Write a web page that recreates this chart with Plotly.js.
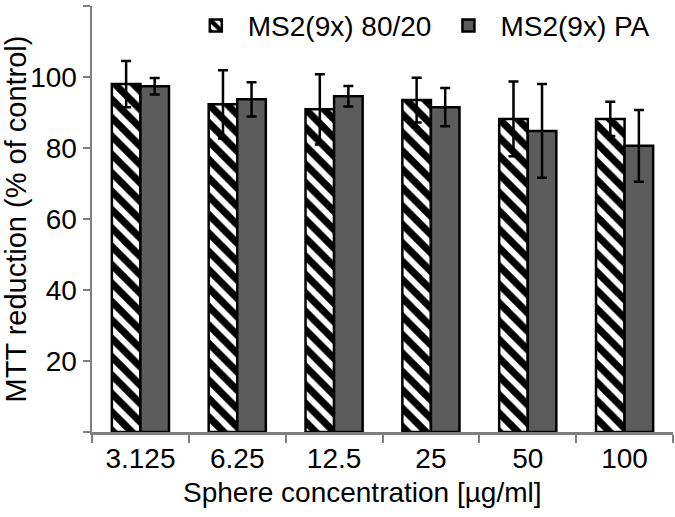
<!DOCTYPE html>
<html>
<head>
<meta charset="utf-8">
<script src="https://cdn.plot.ly/plotly-3.0.1.min.js"></script>
<style>html,body{margin:0;padding:0;background:#fff;}#chart{width:675px;height:517px;}</style>
</head>
<body>
<div id="chart"></div>
<script>
// Data
var categories = ['3.125', '6.25', '12.5', '25', '50', '100'];
var seriesNames = ['MS2(9x) 80/20', 'MS2(9x) PA'];
var ms2_8020 = [98.0, 92.3, 90.9, 93.5, 88.2, 88.2];
var ms2_8020_err = [6.5, 9.6, 9.9, 6.3, 10.5, 4.8];
var ms2_pa = [97.4, 93.7, 94.6, 91.5, 84.8, 80.6];
var ms2_pa_err = [2.3, 4.8, 2.9, 5.4, 13.2, 10.1];
var yTickVals = [0, 20, 40, 60, 80, 100, 120];
var yTickText = ['', '20', '40', '60', '80', '100', ''];
var xTitle = 'Sphere concentration [µg/ml]';
var yTitle = 'MTT reduction (% of control)';

var FONT = 'Arial, "Liberation Sans", Helvetica, sans-serif';
var axisGray = '#7f7f7f';

var traces = [
  {
    type: 'bar', name: seriesNames[0], x: categories, y: ms2_8020,
    marker: {
      color: 'white',
      line: {color: 'black', width: 2.5},
      pattern: {shape: '\\', fgcolor: '#000000', fgopacity: 1, bgcolor: 'white', size: 13, solidity: 0.55, fillmode: 'overlay'}
    },
    error_y: {type: 'data', array: ms2_8020_err, visible: true, color: 'black', thickness: 2.5, width: 5}
  },
  {
    type: 'bar', name: seriesNames[1], x: categories, y: ms2_pa,
    marker: {color: '#5c5c5c', line: {color: 'black', width: 2.5}},
    error_y: {type: 'data', array: ms2_pa_err, visible: true, color: 'black', thickness: 2.5, width: 5}
  }
];

var layout = {
  width: 675, height: 517,
  margin: {l: 92, r: 2, t: 5, b: 85},
  paper_bgcolor: 'white', plot_bgcolor: 'white',
  font: {family: FONT, size: 28, color: 'black'},
  barmode: 'group', bargap: 0.41, bargroupgap: 0,
  showlegend: true,
  legend: {
    orientation: 'h', x: 0.158, xanchor: 'left', y: 1.01, yanchor: 'top',
    font: {family: FONT, size: 28, color: 'black'},
    bgcolor: 'rgba(0,0,0,0)', traceorder: 'normal', itemwidth: 54
  },
  xaxis: {
    type: 'category', showgrid: false, zeroline: false,
    showline: true, linecolor: axisGray, linewidth: 2.5,
    ticks: 'outside', tickson: 'boundaries', ticklen: 8, tickwidth: 2, tickcolor: axisGray,
    tickfont: {family: FONT, size: 28, color: 'black'},
    fixedrange: true
  },
  yaxis: {
    range: [0, 120], showgrid: false, zeroline: false,
    showline: true, linecolor: axisGray, linewidth: 2.5,
    ticks: 'outside', ticklen: 7, tickwidth: 2, tickcolor: axisGray,
    tickmode: 'array', tickvals: yTickVals, ticktext: yTickText,
    tickfont: {family: FONT, size: 28, color: 'black'},
    title: {text: yTitle, font: {family: FONT, size: 29, color: 'black'}, standoff: 1},
    automargin: false
  },
  annotations: [
    {text: xTitle, xref: 'paper', yref: 'paper', x: 0.465, y: -0.143, xanchor: 'center', yanchor: 'middle',
     showarrow: false, font: {family: FONT, size: 28, color: 'black'}}
  ]
};

Plotly.newPlot('chart', traces, layout, {displayModeBar: false, staticPlot: true});
</script>
</body>
</html>
